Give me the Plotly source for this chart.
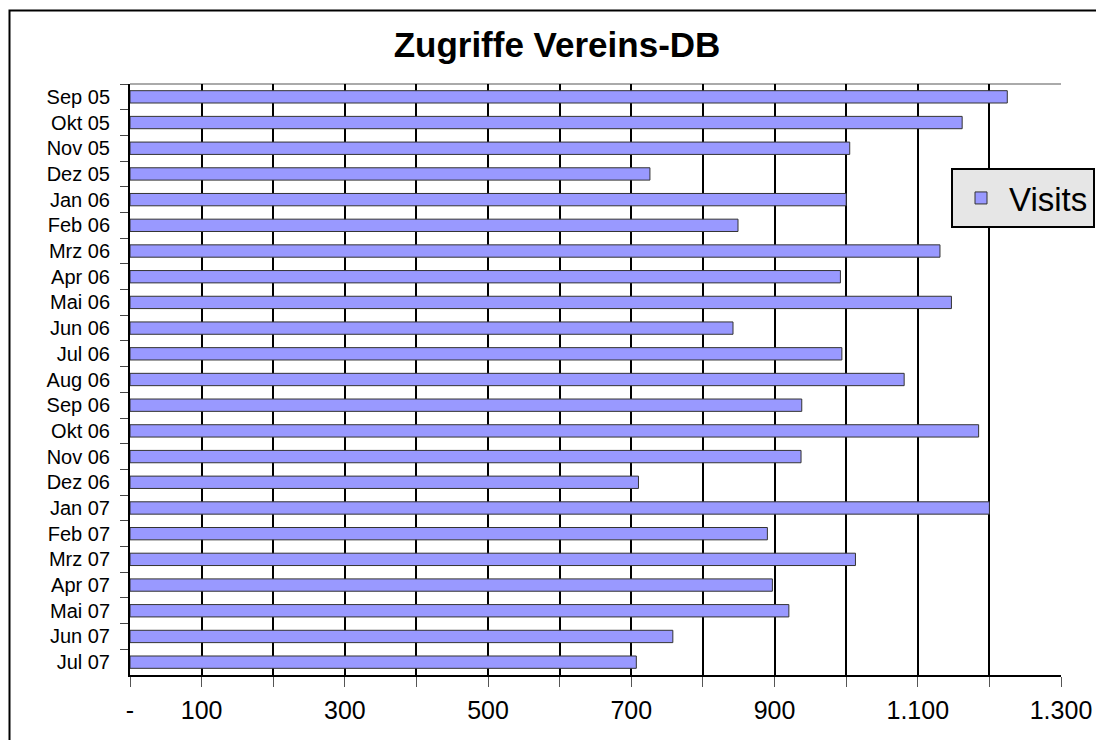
import plotly.graph_objects as go

months = ["Sep 05", "Okt 05", "Nov 05", "Dez 05", "Jan 06", "Feb 06", "Mrz 06", "Apr 06",
          "Mai 06", "Jun 06", "Jul 06", "Aug 06", "Sep 06", "Okt 06", "Nov 06", "Dez 06",
          "Jan 07", "Feb 07", "Mrz 07", "Apr 07", "Mai 07", "Jun 07", "Jul 07"]
visits = [1225, 1162, 1005, 726, 1000, 849, 1131, 992, 1147, 842, 994, 1081,
          938, 1185, 937, 710, 1200, 890, 1013, 897, 920, 758, 707]

x_tickvals = [0, 100, 200, 300, 400, 500, 600, 700, 800, 900, 1000, 1100, 1200, 1300]
x_ticktext = ["-", "100", "", "300", "", "500", "", "700", "", "900", "", "1.100", "", "1.300"]

FONT = "Arial, Liberation Sans, sans-serif"

fig = go.Figure()
fig.add_trace(go.Bar(
    x=visits, y=months, orientation="h", name="Visits",
    marker=dict(color="#9999ff", line=dict(color="#333333", width=1)),
    showlegend=True,
))

OFF = 8  # page body margin
W, H = 1104 - OFF, 740 - OFF
PL, PT, PR, PB = 130, 84, 1061, 675  # plot area in page pixels
L, T = PL - OFF, PT - OFF
R = W - (PR - OFF)
B = H - (PB - OFF)
pw, ph = W - L - R, H - T - B

fig.update_layout(
    width=W, height=H,
    margin=dict(l=L, r=R, t=T, b=B, pad=0, autoexpand=False),
    paper_bgcolor="white", plot_bgcolor="white",
    font=dict(family=FONT, color="black"),
    title=dict(text="<b>Zugriffe Vereins-DB</b>", x=(557 - OFF) / W, xref="container", xanchor="center",
               y=1 - (45 - OFF) / H, yanchor="middle", font=dict(size=35, family=FONT, color="black")),
    bargap=0.52,
    showlegend=True,
    legend=dict(x=(951 - PL) / pw, xanchor="left", y=1 - (168 - PT) / ph, yanchor="top",
                bgcolor="#e6e6e6", bordercolor="black", borderwidth=2, itemwidth=46,
                font=dict(size=33, family=FONT, color="black")),
    xaxis=dict(range=[0, 1300], tickvals=x_tickvals, ticktext=x_ticktext,
               showgrid=True, gridcolor="black", gridwidth=2,
               showline=True, linecolor="black", linewidth=2,
               ticks="outside", ticklen=10, tickcolor="#555555", tickwidth=1,
               ticklabelstandoff=2,
               tickfont=dict(size=25, family=FONT, color="black"),
               zeroline=False),
    yaxis=dict(autorange="reversed", type="category",
               showgrid=False, showline=True, linecolor="black", linewidth=2,
               ticks="outside", tickson="boundaries", ticklen=8, tickcolor="#444444", tickwidth=1,
               ticklabelstandoff=14,
               tickfont=dict(size=20, family=FONT, color="black")),
    shapes=[
        dict(type="line", xref="x domain", yref="y domain", x0=0, x1=1, y0=1, y1=1,
             line=dict(color="#aaaaaa", width=2), layer="below"),
        dict(type="rect", xref="paper", yref="paper",
             x0=(9.5 - PL) / pw, x1=(1130 - PL) / pw, y0=-0.2, y1=1 + (PT - 10.5) / ph,
             line=dict(color="black", width=2), fillcolor="rgba(0,0,0,0)", layer="below"),
    ],
)

fig.write_html("out.html")
